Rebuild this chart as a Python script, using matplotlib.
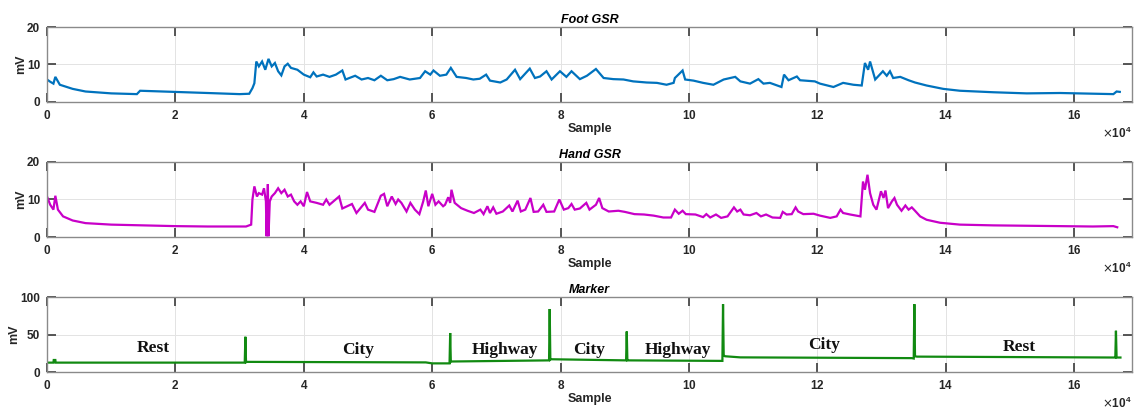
import numpy as np
import matplotlib
matplotlib.use("Agg")
import matplotlib.pyplot as plt

# ---------------- data (x in units of 10^4 samples) ----------------
foot_x = [0.0, 0.05, 0.10, 0.13, 0.20, 0.40, 0.60, 1.00, 1.40, 1.45, 2.00, 2.50, 3.00, 3.15,
          3.20, 3.23, 3.26, 3.30, 3.35, 3.40, 3.45, 3.50, 3.55, 3.60, 3.65, 3.70, 3.75, 3.80,
          3.90, 4.00, 4.10, 4.15, 4.20, 4.30, 4.40, 4.50, 4.60, 4.65, 4.80, 4.90, 5.00, 5.10,
          5.20, 5.30, 5.40, 5.50, 5.65, 5.81, 5.89, 5.97, 6.02, 6.12, 6.22, 6.29, 6.38, 6.53,
          6.64, 6.74, 6.84, 6.90, 7.06, 7.16, 7.29, 7.37, 7.52, 7.60, 7.68, 7.78, 7.86, 7.99,
          8.09, 8.17, 8.30, 8.41, 8.55, 8.67, 8.82, 8.98, 9.13, 9.34, 9.50, 9.65, 9.76, 9.78,
          9.90, 9.94, 10.07, 10.22, 10.38, 10.54, 10.72, 10.80, 10.95, 11.08, 11.16, 11.26,
          11.44, 11.48, 11.55, 11.68, 11.73, 11.96, 12.04, 12.25, 12.40, 12.56, 12.69, 12.74,
          12.79, 12.82, 12.90, 13.02, 13.08, 13.13, 13.18, 13.29, 13.42, 13.52, 13.70, 13.96,
          14.22, 14.74, 15.26, 15.78, 16.29, 16.61, 16.66, 16.71]
foot_mv = [6.0, 5.4, 4.9, 6.7, 4.6, 3.5, 2.8, 2.3, 2.1, 3.0, 2.7, 2.4, 2.1, 2.2,
           3.7, 5.0, 10.8, 9.5, 10.8, 8.6, 11.5, 9.5, 10.4, 8.2, 7.1, 9.5, 10.2, 9.1,
           8.6, 7.3, 6.6, 7.9, 6.8, 7.3, 6.7, 7.3, 8.4, 6.0, 7.0, 6.0, 6.4, 5.8,
           7.0, 5.8, 6.1, 6.7, 6.0, 6.4, 8.2, 7.3, 8.4, 7.0, 7.3, 9.1, 6.7, 6.4,
           6.0, 6.2, 7.3, 5.7, 5.2, 6.0, 8.6, 6.1, 8.9, 6.4, 6.8, 8.2, 6.0, 8.2,
           6.7, 8.2, 6.1, 7.0, 8.8, 6.4, 6.1, 6.0, 5.5, 5.2, 5.1, 4.6, 5.1, 6.4,
           8.4, 6.0, 5.7, 5.1, 4.6, 6.0, 6.7, 5.5, 4.9, 6.1, 4.9, 5.1,
           4.0, 7.3, 5.8, 6.8, 5.8, 5.5, 4.9, 4.0, 5.1, 4.6, 4.4, 10.4,
           8.6, 10.8, 6.0, 8.2, 7.0, 8.2, 6.4, 6.7, 5.8, 5.2, 4.4, 3.5,
           3.0, 2.6, 2.3, 2.4, 2.2, 2.1, 2.8, 2.7]

hand_x = [0.0, 0.05, 0.10, 0.13, 0.17, 0.25, 0.40, 0.60, 1.00, 1.50, 2.00, 2.50, 3.10, 3.18,
          3.20, 3.23, 3.27, 3.30, 3.35, 3.38, 3.41, 3.42, 3.44, 3.45, 3.47, 3.50, 3.55, 3.60,
          3.65, 3.70, 3.75, 3.80, 3.85, 3.90, 3.95, 4.00, 4.05, 4.10, 4.20, 4.30, 4.35, 4.40,
          4.55, 4.60, 4.75, 4.82, 4.95, 5.00, 5.10, 5.20, 5.25, 5.30, 5.37, 5.43, 5.47, 5.52,
          5.60, 5.66, 5.73, 5.80, 5.86, 5.90, 5.94, 6.00, 6.05, 6.10, 6.17, 6.20, 6.25, 6.28,
          6.30, 6.35, 6.45, 6.55, 6.65, 6.75, 6.80, 6.86, 6.90, 6.95, 7.00, 7.10, 7.20, 7.25,
          7.33, 7.38, 7.45, 7.53, 7.58, 7.65, 7.73, 7.78, 7.90, 7.98, 8.05, 8.12, 8.17, 8.22,
          8.30, 8.40, 8.45, 8.55, 8.60, 8.65, 8.75, 8.90, 9.00, 9.15, 9.30, 9.45, 9.60, 9.72,
          9.78, 9.84, 9.90, 9.95, 10.10, 10.22, 10.27, 10.33, 10.42, 10.50, 10.60, 10.70, 10.75,
          10.80, 10.85, 10.95, 11.05, 11.12, 11.20, 11.30, 11.42, 11.46, 11.52, 11.60, 11.66,
          11.70, 11.78, 11.94, 12.04, 12.20, 12.30, 12.36, 12.40, 12.51, 12.67, 12.71, 12.74,
          12.78, 12.82, 12.87, 12.92, 12.99, 13.03, 13.06, 13.10, 13.16, 13.20, 13.24, 13.31,
          13.37, 13.42, 13.47, 13.52, 13.60, 13.70, 13.91, 14.22, 14.74, 15.26, 15.78, 16.29,
          16.61, 16.67]
hand_mv = [10.8, 8.6, 7.3, 11.0, 7.3, 5.5, 4.4, 3.7, 3.3, 3.1, 2.9, 2.8, 2.8, 3.3,
           10.0, 13.5, 10.8, 11.7, 11.3, 13.0, 9.5, 0.2, 14.1, 0.2, 9.5, 10.8, 11.7, 13.0,
           11.7, 12.6, 10.8, 11.3, 9.5, 8.6, 9.5, 8.2, 12.0, 9.5, 9.1, 8.6, 10.0, 8.6,
           10.8, 7.6, 8.8, 6.4, 9.1, 7.3, 6.7, 11.0, 11.5, 8.2, 10.8, 8.8, 10.0, 9.1,
           6.8, 9.1, 7.3, 6.1, 9.5, 12.4, 8.2, 11.5, 8.6, 9.5, 8.2, 8.6, 10.6, 9.1,
           12.6, 9.1, 7.7, 7.0, 6.4, 7.3, 6.1, 8.2, 6.4, 7.9, 6.2, 6.8, 8.4, 6.8,
           9.7, 6.8, 7.3, 10.4, 6.7, 6.8, 8.6, 6.7, 6.8, 10.0, 7.3, 7.7, 8.8, 7.3,
           7.6, 9.1, 7.3, 8.6, 10.4, 7.7, 6.8, 7.0, 6.7, 6.1, 6.0, 5.7, 5.2, 5.2,
           7.3, 6.2, 7.0, 6.1, 6.0, 5.3, 6.1, 5.2, 6.0, 5.1, 5.5, 7.9, 6.8,
           7.3, 6.0, 5.8, 6.4, 5.5, 6.0, 5.2, 5.1, 6.7, 6.0, 6.1, 7.9,
           6.8, 6.1, 6.2, 5.7, 5.1, 5.5, 7.3, 6.4, 6.0, 5.5, 14.8, 12.6,
           16.6, 11.7, 8.6, 7.3, 12.2, 10.4, 12.4, 7.7, 9.5, 10.4, 8.6, 7.0,
           8.4, 7.3, 7.9, 7.0, 5.5, 4.6, 3.8, 3.3, 3.1, 3.0, 2.9, 2.8,
           2.9, 2.6]

marker_x = [0.0, 0.10, 0.105, 0.13, 0.135, 3.08, 3.09, 3.10, 3.11, 5.90, 6.00, 6.27, 6.28,
            6.29, 6.30, 7.82, 7.83, 7.84, 7.85, 9.02, 9.03, 9.04, 9.05, 10.52, 10.53, 10.54,
            10.56, 10.80, 13.47, 13.50, 13.51, 13.52, 13.55, 16.63, 16.64, 16.65, 16.66, 16.72]
marker_mv = [12.5, 12.5, 16.0, 16.0, 12.5, 12.5, 47.0, 13.0, 13.5, 12.8, 11.5, 11.5, 52.0,
             13.5, 14.0, 15.5, 84.0, 16.5, 17.0, 15.5, 54.0, 15.5, 15.5, 14.8, 90.5, 22.5,
             21.0, 19.5, 18.5, 18.0, 90.5, 21.0, 20.5, 19.3, 19.3, 55.0, 19.3, 19.3]

segment_labels = ["Rest", "City", "Highway", "City", "Highway", "City", "Rest"]
segment_label_x = [1.66, 4.85, 7.13, 8.45, 9.83, 12.1, 15.15]
segment_label_y = [32, 29, 29, 30, 30, 36, 33]

titles = ["Foot GSR", "Hand GSR", "Marker"]
ylims = [(0, 20), (0, 20), (0, 100)]
yticks = [[0, 10, 20], [0, 10, 20], [0, 50, 100]]
xticks_e4 = [0, 2, 4, 6, 8, 10, 12, 14, 16]
colors = ["#0072BD", "#C800C8", "#118A11"]

# ---------------- plotting ----------------
W, H = 1137, 411
fig = plt.figure(figsize=(W / 100, H / 100), dpi=100)
plt.rcParams["font.family"] = ["Liberation Sans", "DejaVu Sans"]

left, width = 47 / W, (1132 - 47) / W
tops = [27, 162, 297]
ax_h = 75
series = [(foot_x, foot_mv), (hand_x, hand_mv), (marker_x, marker_mv)]

for i, (top, (xs, ys)) in enumerate(zip(tops, series)):
    ax = fig.add_axes([left, 1 - (top + ax_h) / H, width, ax_h / H])
    ax.plot(np.array(xs) * 1e4, ys, color=colors[i], lw=1.6, solid_joinstyle="miter")
    ax.set_xlim(0, 169000)
    ax.set_ylim(*ylims[i])
    ax.set_xticks(np.array(xticks_e4) * 1e4)
    ax.set_yticks(yticks[i])
    ax.ticklabel_format(axis="x", style="sci", scilimits=(4, 4), useMathText=True)
    off = ax.xaxis.get_offset_text()
    off.set_fontsize(8.5)
    off.set_fontweight("bold")
    off.set_color("#262626")
    ax.grid(True, color="#e3e3e3", lw=0.7)
    ax.set_axisbelow(True)
    ax.tick_params(direction="in", length=6.5, width=1.2, color="#3a3a3a",
                   top=True, right=True, labelsize=8.5, labelcolor="#262626", pad=5)
    for lab in ax.get_xticklabels() + ax.get_yticklabels():
        lab.set_fontweight("bold")
    for sp in ax.spines.values():
        sp.set_color("#8a8a8a")
        sp.set_linewidth(1.0)
    ax.set_title(titles[i], fontsize=9, fontweight="bold", fontstyle="italic", pad=3)
    ax.set_xlabel("Sample", fontsize=9, fontweight="bold", color="#262626", labelpad=1)
    ax.set_ylabel("mV", fontsize=9, fontweight="bold", color="#262626", labelpad=0)

    if i == 2:
        for lab, lx, ly in zip(segment_labels, segment_label_x, segment_label_y):
            ax.text(lx * 1e4, ly, lab, ha="center", va="center", fontsize=12.5,
                    fontweight="bold", family="Liberation Serif", color="#111111")

fig.savefig("out.png", dpi=100)
